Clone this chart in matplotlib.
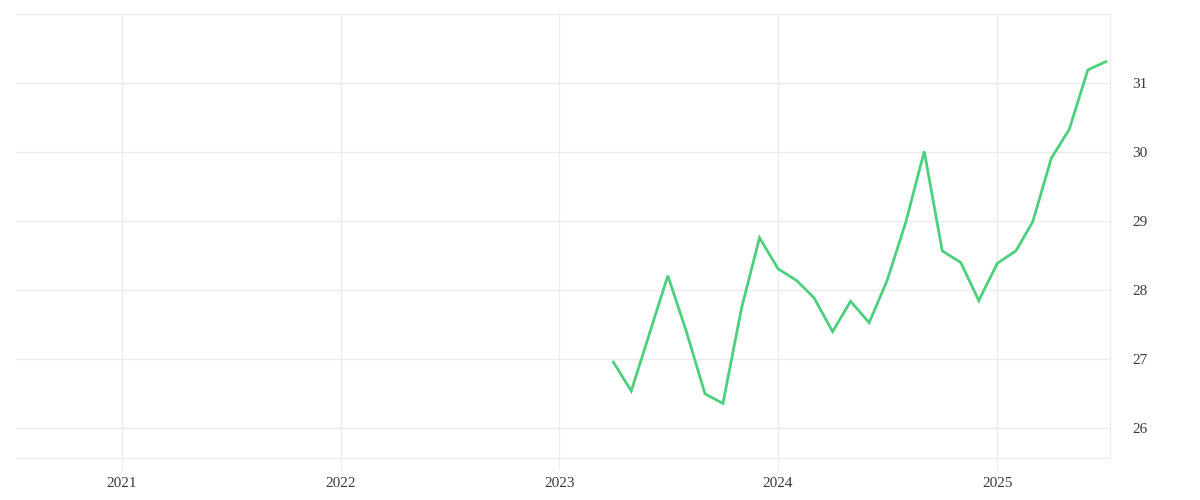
import pandas as pd
import matplotlib.pyplot as plt
import matplotlib.dates as mdates

# monthly values, April 2023 - July 2025
months = pd.date_range('2023-04-01', periods=28, freq='MS')
values = [26.96, 26.54, 27.39, 28.21, 27.40, 26.50, 26.36, 27.74, 28.76, 28.31,
          28.14, 27.89, 27.40, 27.84, 27.53, 28.14, 28.98, 30.01, 28.57, 28.40,
          27.85, 28.39, 28.57, 28.99, 29.91, 30.33, 31.19, 31.31]
y_ticks = [26, 27, 28, 29, 30, 31]
x_years = [2021, 2022, 2023, 2024, 2025]

grid_col = '#ebebeb'
text_col = '#3a3a3a'
plt.rcParams['font.family'] = ['Liberation Serif', 'DejaVu Serif']

fig = plt.figure(figsize=(12, 5), dpi=100)
ax = fig.add_axes([0.0133, 0.084, 0.9117, 0.888])

ax.plot(months, values, color='#4cd07d', linewidth=2.0, solid_joinstyle='miter')

ax.set_xlim(pd.Timestamp('2020-07-08'), pd.Timestamp('2025-07-08'))
ax.set_ylim(25.57, 32.0)

ax.set_xticks([pd.Timestamp(f'{y}-01-01') for y in x_years])
ax.xaxis.set_major_formatter(mdates.DateFormatter('%Y'))
ax.set_yticks(y_ticks)

ax.yaxis.tick_right()
ax.grid(True, color=grid_col, linewidth=1)
ax.set_axisbelow(True)

for side in ['top', 'bottom', 'right']:
    ax.spines[side].set_color(grid_col)
    ax.spines[side].set_linewidth(1)
ax.spines['left'].set_visible(False)

ax.tick_params(axis='x', length=8, color=grid_col, labelcolor=text_col, labelsize=11, pad=6)
ax.tick_params(axis='y', length=0, labelcolor=text_col, labelsize=11, pad=16)

fig.savefig('out.png', dpi=100, facecolor='white')
